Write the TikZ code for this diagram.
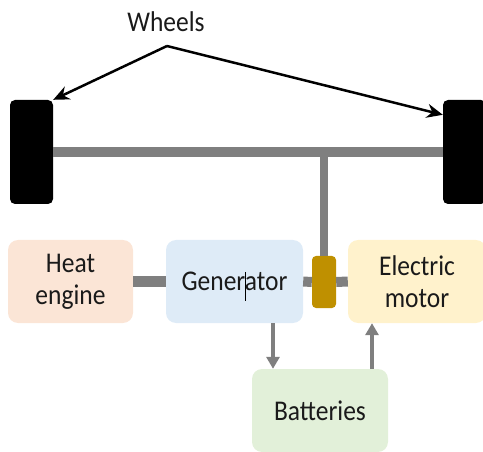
\documentclass[tikz,border=0pt]{standalone}
\usepackage{fontspec}
\setmainfont{Carlito}
\usetikzlibrary{arrows.meta}
\definecolor{heatc}{HTML}{FBE5D6}
\definecolor{genc}{HTML}{DEEBF7}
\definecolor{motc}{HTML}{FFF2CC}
\definecolor{batc}{HTML}{E2F0D9}
\definecolor{cplc}{HTML}{BF9000}
\definecolor{shaftc}{HTML}{7F7F7F}
\definecolor{txtc}{HTML}{1A1A1A}
\newcommand{\tallt}[1]{\scalebox{1}[1.12]{#1}}
\tikzset{
  box/.style={rounded corners=10pt, minimum height=83pt, align=center, text=txtc, font=\fontsize{25.5}{32}\selectfont, inner sep=0pt},
  wheel/.style={fill=black, rounded corners=5pt, minimum width=43pt, minimum height=104pt, inner sep=0pt},
  shaft/.style={draw=shaftc, line width=10pt},
  vshaft/.style={draw=shaftc, line width=8pt},
  garrow/.style={draw=shaftc, line width=3.5pt, -{Triangle[length=12pt,width=13pt]}},
  barrow/.style={draw=black, line width=2.5pt, -{Stealth[length=16pt,width=14pt]}},
}
\begin{document}
\begin{tikzpicture}[x=1pt,y=-1pt]
\useasboundingbox (0,0) rectangle (483,452);
\node[font=\fontsize{25.5}{30}\selectfont, text=txtc] (wl) at (166,22) {\tallt{Wheels}};
\coordinate (apex) at (167,46);
\node[wheel] (lw) at (31.5,152) {};
\node[wheel] (rw) at (464.5,152) {};
\node[box, fill=heatc, minimum width=125pt] (he) at (70.5,281.5) {\tallt{Heat}\\\tallt{engine}};
\node[box, fill=genc, minimum width=137pt] (gen) at (234.5,281.5) {\tallt{Generator}};
\node[box, fill=motc, minimum width=138pt] (em) at (417,281.5) {\tallt{Electric}\\\tallt{motor}};
\node[box, fill=batc, minimum width=136pt] (bat) at (320,410.5) {\tallt{Batteries}};
\node[fill=cplc, rounded corners=4pt, minimum width=24pt, minimum height=52pt, inner sep=0pt] (cp) at (324,282) {};
% shafts
\draw[shaft] (lw.east) -- (rw.west);
\draw[vshaft] (cp.north |- lw.east) -- (cp.north);
\draw[shaft] (he.east) -- (gen.west);
\draw[shaft] (gen.east) -- (cp.west);
\draw[shaft] (cp.east) -- (em.west);
% wheel arrows
\draw[barrow] (apex) -- (lw.north east);
\draw[barrow] (apex) -- ([yshift=-15pt]rw.north west);
% electric arrows
\draw[garrow] ([xshift=38.5pt]gen.south) -- ([xshift=38.5pt]gen.south |- bat.north);
\draw[garrow] ([xshift=52pt]bat.north) -- ([xshift=52pt]bat.north |- em.south);
% text cursor
\draw[line width=0.8pt] (245,272) -- (245,301);
\end{tikzpicture}
\end{document}
